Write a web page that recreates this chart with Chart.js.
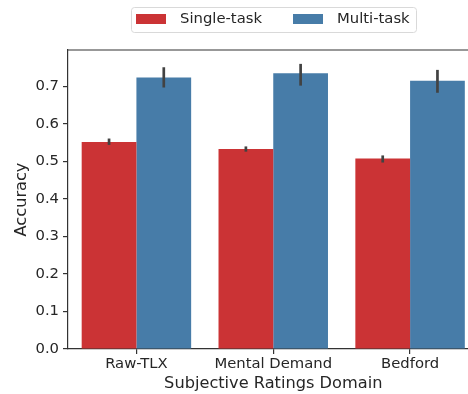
<!DOCTYPE html>
<html>
<head>
<meta charset="utf-8">
<script src="https://cdn.jsdelivr.net/npm/chart.js@4/dist/chart.umd.min.js"></script>
<style>
  html, body { margin: 0; padding: 0; background: #fff; overflow: hidden; }
  #wrap { width: 468px; height: 394px; overflow: hidden; position: relative; }
  #box { width: 482px; height: 394px; position: absolute; left: 0; top: 0; }
</style>
</head>
<body>
<div id="wrap"><div id="box"><canvas id="c"></canvas></div></div>
<script>
// Accuracy by subjective ratings domain, single- vs multi-task models
const categories = ['Raw-TLX', 'Mental Demand', 'Bedford'];
const seriesNames = ['Single-task', 'Multi-task'];
const singleTask = [0.552, 0.533, 0.508];
const singleTaskLow = [0.544, 0.526, 0.497];
const singleTaskHigh = [0.561, 0.540, 0.516];
const multiTask = [0.724, 0.735, 0.715];
const multiTaskLow = [0.697, 0.702, 0.683];
const multiTaskHigh = [0.751, 0.760, 0.744];
const yTicks = [0.0, 0.1, 0.2, 0.3, 0.4, 0.5, 0.6, 0.7];

const RED = '#CB3335';
const BLUE = '#477CA8';
const INK = '#262626';
const FONT = "'DejaVu Sans', sans-serif";
const TICK_SIZE = 14.8;
const LABEL_SIZE = 16.2;

// error bars for each dataset
const errorBars = {
  id: 'errorBars',
  afterDatasetsDraw(chart) {
    const ctx = chart.ctx;
    const y = chart.scales.y;
    const ranges = [[singleTaskLow, singleTaskHigh], [multiTaskLow, multiTaskHigh]];
    ctx.save();
    ctx.strokeStyle = '#424242';
    ctx.lineWidth = 2.7;
    ranges.forEach((r, di) => {
      const meta = chart.getDatasetMeta(di);
      meta.data.forEach((bar, i) => {
        ctx.beginPath();
        ctx.moveTo(bar.x, y.getPixelForValue(r[0][i]));
        ctx.lineTo(bar.x, y.getPixelForValue(r[1][i]));
        ctx.stroke();
      });
    });
    ctx.restore();
  }
};

// top spine and boxed legend
const frame = {
  id: 'frame',
  afterDraw(chart) {
    const ctx = chart.ctx;
    const a = chart.chartArea;
    ctx.save();
    ctx.strokeStyle = '#333';
    ctx.lineWidth = 1.2;
    ctx.beginPath();
    ctx.moveTo(a.left, a.top);
    ctx.lineTo(a.right + 5, a.top);
    ctx.stroke();

    // legend
    const lx = 131, ly = 7, lw = 285, lh = 25;
    ctx.strokeStyle = '#d9d9d9';
    ctx.lineWidth = 1;
    ctx.beginPath();
    ctx.roundRect(lx + 0.5, ly + 0.5, lw, lh, 3);
    ctx.fillStyle = 'rgba(255,255,255,0.8)';
    ctx.fill();
    ctx.stroke();
    const items = [
      { sx: 136, tx: 180, color: RED, label: chart.data.datasets[0].label },
      { sx: 293, tx: 337, color: BLUE, label: chart.data.datasets[1].label }
    ];
    ctx.font = TICK_SIZE + 'px ' + FONT;
    ctx.textBaseline = 'middle';
    ctx.textAlign = 'left';
    items.forEach(it => {
      ctx.fillStyle = it.color;
      ctx.fillRect(it.sx, 14, 30, 10);
      ctx.fillStyle = INK;
      ctx.fillText(it.label, it.tx, 19.5);
    });
    ctx.restore();
  }
};

new Chart(document.getElementById('c'), {
  type: 'bar',
  data: {
    labels: categories,
    datasets: [
      { label: seriesNames[0], data: singleTask, backgroundColor: RED },
      { label: seriesNames[1], data: multiTask, backgroundColor: BLUE }
    ]
  },
  options: {
    responsive: true,
    maintainAspectRatio: false,
    animation: false,
    layout: { padding: { top: 50, right: 3.5, left: 0, bottom: 0 } },
    datasets: { bar: { barPercentage: 1.0, categoryPercentage: 0.8 } },
    plugins: { legend: { display: false }, tooltip: { enabled: false } },
    scales: {
      x: {
        type: 'category',
        offset: true,
        grid: { display: true, offset: false, drawOnChartArea: false, drawTicks: true, tickLength: 5, color: '#333', lineWidth: 1.2 },
        border: { display: true, color: '#333', width: 1.2 },
        ticks: { color: INK, font: { family: FONT, size: TICK_SIZE }, padding: 1, maxRotation: 0 },
        title: { display: true, text: 'Subjective Ratings Domain', color: INK, font: { family: FONT, size: LABEL_SIZE }, padding: { top: 1.3, bottom: 0 } },
        afterFit(axis) { axis.height = 45; }
      },
      y: {
        min: 0,
        max: 0.797,
        afterBuildTicks(axis) { axis.ticks = yTicks.map(v => ({ value: v })); },
        grid: { display: true, drawOnChartArea: false, drawTicks: true, tickLength: 5, color: '#333', lineWidth: 1.2 },
        border: { display: true, color: '#333', width: 1.2 },
        ticks: { color: INK, font: { family: FONT, size: TICK_SIZE }, padding: 4, callback: v => Number(v).toFixed(1) },
        title: { display: true, text: 'Accuracy', color: INK, font: { family: FONT, size: LABEL_SIZE }, padding: { top: 12.3, bottom: 0 } },
        afterFit(axis) { axis.width = 68; }
      }
    }
  },
  plugins: [errorBars, frame]
});
</script>
</body>
</html>
